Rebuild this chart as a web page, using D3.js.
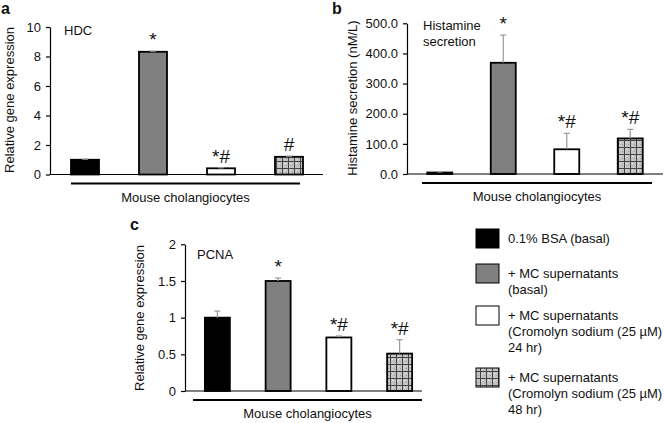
<!DOCTYPE html>
<html><head><meta charset="utf-8">
<script src="https://cdn.jsdelivr.net/npm/d3@7"></script>
<style>
html,body{margin:0;padding:0;background:#fff;}
text{font-family:"Liberation Sans",Arial,sans-serif;fill:#111;}
</style></head>
<body><svg id="c" width="664" height="423"></svg>
<script>
const categories = ["0.1% BSA (basal)", "+ MC supernatants (basal)", "+ MC supernatants (Cromolyn sodium 24 hr)", "+ MC supernatants (Cromolyn sodium 48 hr)"];
const hdcValues = [1.0, 8.32, 0.42, 1.2];
const hdcErrors = [0.04, 0.04, 0.04, 0.04];
const hdcSig = ["", "*", "*#", "#"];
const hdcTicks = [0, 2, 4, 6, 8, 10];
const histValues = [5, 369, 82, 118];
const histErrors = [2, 92, 53, 30];
const histSig = ["", "*", "*#", "*#"];
const histTicks = [0, 100, 200, 300, 400, 500];
const pcnaValues = [1.0, 1.5, 0.73, 0.51];
const pcnaErrors = [0.09, 0.04, 0.02, 0.19];
const pcnaSig = ["", "*", "*#", "*#"];
const pcnaTicks = [0, 0.5, 1, 1.5, 2];
const legendLines = [["0.1% BSA (basal)"], ["+ MC supernatants", "(basal)"], ["+ MC supernatants", "(Cromolyn sodium (25 \u00b5M)", "24 hr)"], ["+ MC supernatants", "(Cromolyn sodium (25 \u00b5M)", "48 hr)"]];

const svg = d3.select("#c");
const defs = svg.append("defs");
const pat = defs.append("pattern").attr("id","grid").attr("patternUnits","userSpaceOnUse")
  .attr("width",6).attr("height",7);
pat.append("rect").attr("width",6).attr("height",7).attr("fill","#c4c4c4");
pat.append("rect").attr("x",2).attr("y",2).attr("width",1).attr("height",1).attr("fill","#e8e8e8");
pat.append("rect").attr("x",4).attr("y",4).attr("width",1).attr("height",1).attr("fill","#9a9a9a");
pat.append("line").attr("x1",0.5).attr("x2",0.5).attr("y1",0).attr("y2",7).attr("stroke","#444").attr("stroke-width",1);
pat.append("line").attr("x1",0).attr("x2",6).attr("y1",0.5).attr("y2",0.5).attr("stroke","#444").attr("stroke-width",1);

const fills = ["#000000", "#808080", "#ffffff", "url(#grid)"];

function panel(o){
  const g = svg.append("g");
  const y = d3.scaleLinear().domain(o.domain).range([o.y0, o.y1]);
  const x = d3.scaleBand().domain(categories).range(o.xr);
  g.selectAll("rect.bar").data(o.values).enter().append("rect")
    .attr("x",(d,i)=>x(categories[i]) + x.bandwidth()/2 - o.bw/2)
    .attr("width",o.bw)
    .attr("y",d=>y(d)).attr("height",d=>y(0)-y(d))
    .attr("fill",(d,i)=>fills[i]).attr("stroke","#000").attr("stroke-width",1.8);
  o.values.forEach((v,i)=>{
    const cx = x(categories[i]) + x.bandwidth()/2;
    const e = o.errors[i];
    g.append("line").attr("x1",cx).attr("x2",cx).attr("y1",y(v)).attr("y2",y(v+e)).attr("stroke","#999").attr("stroke-width",1.2);
    g.append("line").attr("x1",cx-3).attr("x2",cx+3).attr("y1",y(v+e)).attr("y2",y(v+e)).attr("stroke","#999").attr("stroke-width",1.2);
    if(o.sig[i]){
      g.append("text").attr("x",cx).attr("y",y(v+e)-o.sigOff).attr("text-anchor","middle").attr("font-size",19).text(o.sig[i]);
    }
  });
  const ax = g.append("g").attr("transform",`translate(${o.ax},0)`)
    .call(d3.axisLeft(y).tickValues(o.ticks).tickSize(4).tickSizeOuter(0).tickPadding(5).tickFormat(o.fmt));
  ax.select(".domain").attr("stroke","#000").attr("stroke-width",1.2);
  ax.selectAll(".tick line").attr("stroke","#000").attr("stroke-width",1.2);
  ax.selectAll(".tick text").attr("font-size",13).attr("font-family","Liberation Sans, Arial, sans-serif").attr("fill","#111");
  g.append("line").attr("x1",o.ax).attr("x2",o.axEnd).attr("y1",y(0)).attr("y2",y(0)).attr("stroke","#000").attr("stroke-width",1.2);
  g.append("line").attr("x1",o.sep[0]).attr("x2",o.sep[1]).attr("y1",y(0)+9).attr("y2",y(0)+9).attr("stroke","#000").attr("stroke-width",2);
  g.append("text").attr("x",(o.sep[0]+o.sep[1])/2).attr("y",y(0)+27).attr("text-anchor","middle").attr("font-size",13).text("Mouse cholangiocytes");
  g.append("text").attr("transform",`translate(${o.ylx},${o.yly}) rotate(-90)`).attr("text-anchor","middle").attr("font-size",13).text(o.ylabel);
  o.title.forEach((s,k)=>g.append("text").attr("x",o.tx).attr("y",o.ty+k*16).attr("font-size",13).text(s));
  g.append("text").attr("x",o.lx).attr("y",o.ly).attr("font-size",16).attr("font-weight","bold").text(o.letter);
}

panel({values:hdcValues, errors:hdcErrors, sig:hdcSig, ticks:hdcTicks, domain:[0,10], y0:174.5, y1:27,
  xr:[51,323], bw:28, ax:50, axEnd:323, sep:[71,300], fmt:d3.format("d"), sigOff:5,
  ylabel:"Relative gene expression", ylx:14, yly:100, title:["HDC"], tx:64, ty:35, letter:"a", lx:1, ly:14});
panel({values:histValues, errors:histErrors, sig:histSig, ticks:histTicks, domain:[0,500], y0:174, y1:23.3,
  xr:[408,662], bw:25, ax:407, axEnd:663, sep:[422,652], fmt:d3.format(".1f"), sigOff:5,
  ylabel:"Histamine secretion (nM/L)", ylx:357, yly:98, title:["Histamine","secretion"], tx:423, ty:30, letter:"b", lx:332, ly:14});
panel({values:pcnaValues, errors:pcnaErrors, sig:pcnaSig, ticks:pcnaTicks, domain:[0,2], y0:391, y1:244.3,
  xr:[187,430], bw:25, ax:185, axEnd:422, sep:[193,422], fmt:d => String(d), sigOff:5,
  ylabel:"Relative gene expression", ylx:144, yly:318, title:["PCNA"], tx:197, ty:259, letter:"c", lx:130, ly:230});

const legY = [229, 264, 306, 368];
const lg = svg.append("g");
legendLines.forEach((lines,i)=>{
  lg.append("rect").attr("x",476).attr("y",legY[i]).attr("width",23).attr("height",19)
    .attr("fill",fills[i]).attr("stroke","#000").attr("stroke-width",1);
  lines.forEach((s,k)=>lg.append("text").attr("x",508).attr("y",legY[i]+14+k*16).attr("font-size",13).text(s));
});
</script></body></html>
